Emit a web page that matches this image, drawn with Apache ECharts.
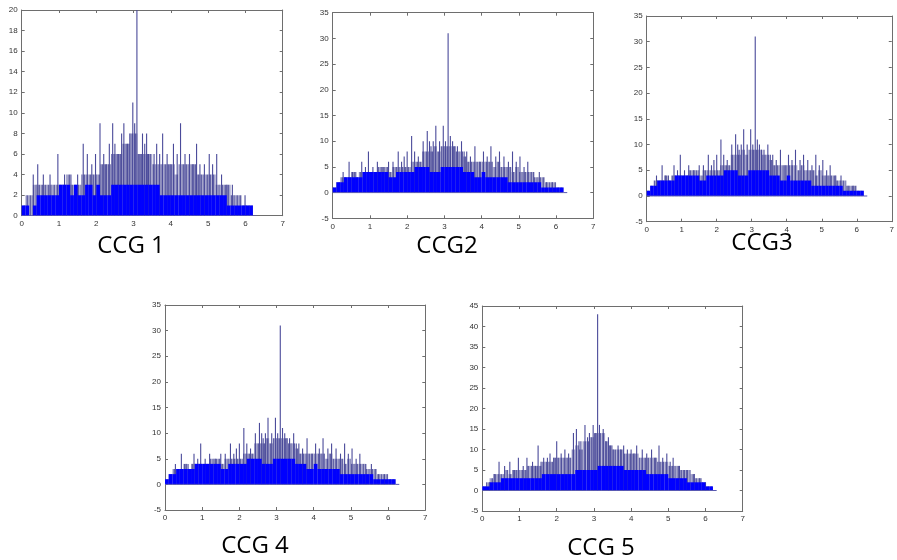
<!DOCTYPE html>
<html>
<head>
<meta charset="utf-8">
<script src="https://cdn.jsdelivr.net/npm/echarts@6/dist/echarts.min.js"></script>
<style>
html,body{margin:0;padding:0;background:#fff;}
#c{width:897px;height:560px;}
</style>
</head>
<body>
<div id="c"></div>
<script>
// ---------------- DATA ----------------
const binWidth = 0.1;            // histogram bin width (bins start at 0)
const xTicks = [0, 1, 2, 3, 4, 5, 6, 7];
const titles = ['CCG 1', 'CCG2', 'CCG3', 'CCG 4', 'CCG 5'];

// CCG 1
const ccg1Base = [1,1,0,1,2,2,2,2,2,2, 3,3,3,2,3,2,2,3,3,2, 3,2,2,2,3,3,3,3,3,3,
                  3,3,3,3,3,3,3,2,2,2, 2,2,2,2,2,2,2,2,2,2, 2,2,2,2,2,1,1,1,1,1, 1,1,0];
const ccg1Top  = [1,2,2,3,3,3,3,3,3,3, 3,3,4,3,3,3,4,4,4,4, 4,5,5,5,6,6,6,7,7,8,
                  8,6,6,6,6,5,5,5,5,5, 5,4,5,5,5,5,5,4,4,4, 4,4,3,3,3,3,2,2,2,1, 1,1,0];
const ccg1Spikes = [[0.31,4],[0.43,5],[0.58,4],[0.76,4],[0.97,6],[1.15,4],[1.32,4],[1.5,4],[1.65,7],[1.76,6],
  [1.88,5],[1.98,6],[2.1,9],[2.2,6],[2.27,5],[2.35,7],[2.44,9],[2.5,7],[2.6,6],[2.68,8],[2.74,9],[2.84,7],
  [2.9,8],[2.98,11],[3.03,9],[3.09,20],[3.17,6],[3.24,8],[3.3,7],[3.35,8],[3.4,6],[3.55,6],[3.62,7],
  [3.7,6],[3.78,8],[3.9,6],[3.98,5],[4.07,7],[4.17,6],[4.26,9],[4.38,6],[4.5,6],[4.6,5],[4.69,7],[4.78,5],
  [4.9,5],[5.03,6],[5.12,5],[5.23,6],[5.36,4],[5.5,3],[5.65,3],[5.99,2]];

// CCG2
const ccg2Base = [1,2,2,3,3,3,3,3,4,4, 4,4,4,4,4,3,3,4,4,4, 4,4,5,5,5,5,4,4,4,5,
                  5,5,5,5,5,4,4,4,3,3, 4,3,3,3,3,3,3,2,2,2, 2,2,2,2,2,2,1,1,1,1, 1,1,0];
const ccg2Top  = [1,2,3,3,3,4,3,4,4,4, 4,4,5,5,5,4,5,5,5,5, 5,6,6,6,8,8,8,9,8,9,
                  9,9,9,8,8,7,6,6,6,6, 6,6,6,5,6,5,5,5,4,5, 4,4,4,4,3,3,3,2,2,2, 1,1,0];
const ccg2Spikes = [[0.28,4],[0.44,6],[0.53,4],[0.62,4],[0.78,6],[0.88,5],[0.96,8],[1.08,5],[1.2,6],[1.35,5],
  [1.5,6],[1.62,6],[1.76,8],[1.85,6],[1.92,7],[2.0,8],[2.12,11],[2.2,8],[2.3,7],[2.43,10],[2.54,12],
  [2.6,10],[2.64,9],[2.7,10],[2.77,13],[2.87,10],[2.97,13],[3.03,10],[3.1,31],[3.16,11],[3.22,10],
  [3.28,9],[3.35,9],[3.46,10],[3.53,8],[3.6,8],[3.7,7],[3.82,9],[3.95,6],[4.05,8],[4.15,7],[4.25,9],
  [4.38,7],[4.48,8],[4.6,7],[4.72,6],[4.83,8],[4.93,6],[5.03,7],[5.14,5],[5.24,6],[5.4,4],[5.55,4],[5.75,2],[5.9,2]];

// CCG3 and CCG4 read the same as CCG2
const ccg3Base = ccg2Base.slice(), ccg3Top = ccg2Top.slice(), ccg3Spikes = ccg2Spikes.slice();
const ccg4Base = ccg2Base.slice(), ccg4Top = ccg2Top.slice(), ccg4Spikes = ccg2Spikes.slice();

// CCG 5
const ccg5Base = [1,1,2,2,2,3,3,3,3,3, 3,3,3,3,3,3,4,4,4,4, 4,4,4,4,4,5,5,5,5,5,
                  5,6,6,6,6,6,6,6,5,5, 5,5,5,5,4,4,4,4,4,4, 3,3,3,3,3,2,2,2,2,2, 1,1,0];
const ccg5Top  = [1,2,3,4,4,4,5,4,5,5, 5,5,6,6,6,6,7,7,7,8, 8,8,8,8,10,11,10,12,12,13,
                  14,14,14,12,11,10,10,10,9,9, 9,9,8,8,8,8,8,7,7,7, 6,6,6,5,5,5,4,3,3,2, 1,1,0];
const ccg5Spikes = [[0.2,2],[0.32,4],[0.45,7],[0.6,6],[0.74,7],[0.87,5],[0.97,8],[1.1,6],[1.2,8],[1.35,7],
  [1.43,6],[1.5,11],[1.58,7],[1.65,8],[1.75,8],[1.82,9],[1.92,8],[2.0,12],[2.12,9],[2.22,10],[2.32,9],
  [2.45,14],[2.53,15],[2.6,12],[2.65,12],[2.76,16],[2.83,13],[2.88,14],[2.98,16],[3.05,14],[3.1,43],
  [3.15,16],[3.25,15],[3.32,12],[3.39,13],[3.45,11],[3.52,10],[3.65,11],[3.72,10],[3.8,11],[3.9,10],
  [4.0,10],[4.08,9],[4.15,11],[4.3,10],[4.42,9],[4.55,10],[4.65,8],[4.75,11],[4.85,8],[4.96,9],
  [5.05,7],[5.13,8],[5.3,6],[5.42,5],[5.5,5],[5.7,4],[5.85,3],[6.0,2]];

const yRanges = [[0,20,2],[-5,35,5],[-5,35,5],[-5,35,5],[-5,45,5]];

// ---------------- LAYOUT ----------------
const panels = [
  {base: ccg1Base, top: ccg1Top, spikes: ccg1Spikes, grid: {left: 21.7, top: 10,   width: 261,   height: 205.7}, title: [131, 246]},
  {base: ccg2Base, top: ccg2Top, spikes: ccg2Spikes, grid: {left: 332.7, top: 12.7, width: 260.6, height: 205.6}, title: [447, 246]},
  {base: ccg3Base, top: ccg3Top, spikes: ccg3Spikes, grid: {left: 646.7, top: 16,   width: 259.3, height: 205.7}, title: [762, 243]},
  {base: ccg4Base, top: ccg4Top, spikes: ccg4Spikes, grid: {left: 165,   top: 305,  width: 260.3, height: 205},   title: [255, 546]},
  {base: ccg5Base, top: ccg5Top, spikes: ccg5Spikes, grid: {left: 482.3, top: 306,  width: 260.4, height: 205},   title: [601, 548]}
];

const boxColor = '#6e6e6e';
const labelStyle = {fontSize: 8, color: '#333', fontFamily: 'Liberation Sans, Arial, sans-serif'};

// vertical stripe texture imitating many thin, anti-aliased histogram bars
const stripe = document.createElement('canvas');
stripe.width = 3; stripe.height = 4;
(function () {
  const ctx = stripe.getContext('2d');
  ctx.fillStyle = '#a6a6cc'; ctx.fillRect(0, 0, 3, 4);
  ctx.fillStyle = '#6262a6'; ctx.fillRect(0, 0, 1, 4);
  ctx.fillStyle = '#8c8cbc'; ctx.fillRect(2, 0, 1, 4);
})();
const stripeFill = {image: stripe, repeat: 'repeat'};

function binData(arr) { return arr.map((v, i) => [i * binWidth, v]); }

function rectRender(fill, drawZero) {
  return function (params, api) {
    const x = api.value(0), h = api.value(1);
    const p0 = api.coord([x, 0]);
    const p1 = api.coord([x + binWidth, h]);
    const children = [];
    if (h > 0) {
      children.push({type: 'rect',
        shape: {x: p0[0], y: p1[1], width: p1[0] - p0[0], height: p0[1] - p1[1]},
        style: {fill: fill}});
    }
    if (drawZero) {
      children.push({type: 'line', shape: {x1: p0[0], y1: p0[1], x2: p1[0], y2: p0[1]},
        style: {stroke: '#5a5ab0', lineWidth: 1}});
    }
    return {type: 'group', children: children};
  };
}
function spikeRender(params, api) {
  const x = api.value(0), h = api.value(1);
  const p0 = api.coord([x, 0]);
  const p1 = api.coord([x, h]);
  return {type: 'line', shape: {x1: p0[0], y1: p0[1], x2: p1[0], y2: p1[1]},
    style: {stroke: '#4a4a9a', lineWidth: 1.1}};
}

const grids = [], xAxes = [], yAxes = [], series = [], graphics = [];
panels.forEach((p, g) => {
  grids.push(Object.assign({show: false}, p.grid));
  const [ymin, ymax, yint] = yRanges[g];
  const common = {min: 0, max: 7, interval: 1, gridIndex: g, type: 'value', splitLine: {show: false},
    axisLine: {show: true, onZero: false, lineStyle: {color: boxColor, width: 1}},
    axisTick: {show: true, inside: true, length: 3, lineStyle: {color: boxColor}}};
  xAxes.push(Object.assign({}, common, {position: 'bottom',
    axisLabel: Object.assign({show: true, margin: 4}, labelStyle)}));
  xAxes.push(Object.assign({}, common, {position: 'top', axisLabel: {show: false}}));
  const ycommon = {min: ymin, max: ymax, interval: yint, gridIndex: g, type: 'value', splitLine: {show: false},
    axisLine: {show: true, onZero: false, lineStyle: {color: boxColor, width: 1}},
    axisTick: {show: true, inside: true, length: 3, lineStyle: {color: boxColor}}};
  yAxes.push(Object.assign({}, ycommon, {position: 'left',
    axisLabel: Object.assign({show: true, margin: 4}, labelStyle)}));
  yAxes.push(Object.assign({}, ycommon, {position: 'right', axisLabel: {show: false}}));

  const xi = 2 * g, yi = 2 * g;
  series.push({type: 'custom', xAxisIndex: xi, yAxisIndex: yi, clip: true, silent: true,
    renderItem: rectRender(stripeFill, false), data: binData(p.top), z: 2});
  series.push({type: 'custom', xAxisIndex: xi, yAxisIndex: yi, clip: true, silent: true,
    renderItem: spikeRender, data: p.spikes, z: 3});
  series.push({type: 'custom', xAxisIndex: xi, yAxisIndex: yi, clip: true, silent: true,
    renderItem: rectRender('#0000ff', true), data: binData(p.base), z: 4});

  graphics.push({type: 'text', x: p.title[0], y: p.title[1],
    style: {text: titles[g], font: '24px "Open Sans", sans-serif', fill: '#000',
      textAlign: 'center', textVerticalAlign: 'middle'}});
});

const chart = echarts.init(document.getElementById('c'), null, {renderer: 'canvas'});
chart.setOption({
  animation: false,
  backgroundColor: '#fff',
  grid: grids,
  xAxis: xAxes,
  yAxis: yAxes,
  series: series,
  graphic: graphics
});
</script>
</body>
</html>
